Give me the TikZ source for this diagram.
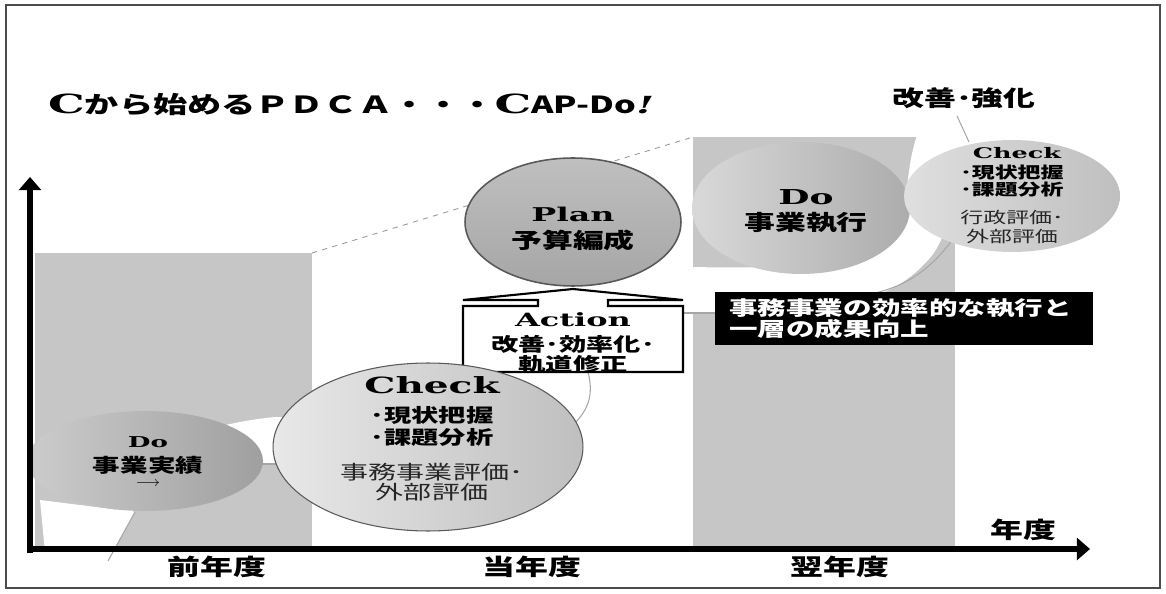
\documentclass[tikz,border=0pt]{standalone}
\usepackage{fontspec}
\setmainfont{Noto Sans CJK JP}[FakeStretch=1.45]
\newfontfamily\widefont{DejaVu Serif}[FakeStretch=1.75]
\usetikzlibrary{arrows.meta,shapes.geometric,positioning}
\newcommand{\fsz}[2]{\fontsize{#1}{#2}\selectfont}

\tikzset{
  yearband/.style={fill=gray!45},
  phase/.style={ellipse, inner sep=0pt},
  rim/.style={draw=gray!70!black, line width=0.6pt},
  ribbonedge/.style={draw=gray!70, line width=0.6pt},
  axis/.style={line width=3.6pt, -{Triangle[width=12.5pt,length=7.5pt]}},
  yearlabel/.style={font=\bfseries\fsz{12.9pt}{15pt}},
  wordbig/.style={font=\widefont\bfseries\fsz{#1}{#1}},
}

\begin{document}
\begin{tikzpicture}[x=0.02cm, y=-0.02cm]
  \useasboundingbox (0,0) rectangle (1166,594);
  \draw[line width=0.8pt, gray!60!black] (6,5) rectangle (1160,588);

  % year backgrounds
  \fill[yearband] (35,253) rectangle (312,548);
  \fill[yearband] (693,137) rectangle (955,548);
  \draw[dashed, gray!80, line width=0.5pt] (312,253) -- (693,137);

  % spiral ribbon behind the phases
  \fill[white] (40,500) -- (135,512) -- (108,561) -- (45,552) -- cycle;
  \draw[white, line width=26pt] (110,498) .. controls (170,465) and (215,446) .. (275,440)
    .. controls (420,440) and (563,450) .. (563,395)
    .. controls (563,330) and (620,290) .. (700,290)
    .. controls (820,292) and (880,285) .. (915,240)
    .. controls (935,210) and (925,165) .. (945,128);
  \draw[ribbonedge] (135,512) -- (108,561);
  \draw[ribbonedge] (255,464) -- (285,464);
  \draw[ribbonedge] (588,372) .. controls (594,395) and (588,410) .. (574,424);
  \draw[ribbonedge] (680,313) -- (718,313);
  \draw[ribbonedge] (875,293) .. controls (910,285) and (935,265) .. (955,236);
  \draw[ribbonedge] (957,116) -- (969,142);

  % action callout
  \draw[fill=white, line width=1.2pt] (463,372) -- (463,306) -- (538,306) -- (538,300) -- (463,300)
    -- (573,289) -- (683,300) -- (608,300) -- (608,306) -- (683,306) -- (683,372) -- cycle;

  % phases
  \node[phase, minimum width=4.72cm, minimum height=2cm, left color=gray!40, right color=gray!75] (doprev) at (145,461) {};
  \node[phase, rim, minimum width=6.2cm, minimum height=3.36cm, left color=gray!18, right color=gray!50] (checkbig) at (428,447) {};
  \node[phase, rim, line width=0.9pt, minimum width=4.32cm, minimum height=2.56cm, top color=gray!50, bottom color=gray!70] (plan) at (573,222) {};
  \node[phase, minimum width=4.36cm, minimum height=2.64cm, left color=gray!30, right color=gray!65] (donext) at (801,208) {};
  \node[phase, minimum width=4.32cm, minimum height=2.24cm, left color=gray!25, right color=gray!50] (checksmall) at (1012,196) {};

  \node[fill=black, text=white, anchor=north west, minimum width=7.56cm, minimum height=1.06cm, text width=7.0cm,
    inner xsep=0pt, align=left, font=\bfseries\fsz{11.2pt}{10.8pt}] (result) at (715,292) {事務事業の効率的な執行と\\一層の成果向上};

  % axes
  \draw[axis] (30,553) -- (30,177);
  \draw[axis] (27,549) -- (1090,549);

  % texts
  \node[anchor=west, font=\bfseries\fsz{13.4pt}{15pt}] (title) at (42,105)
    {{\widefont\fsz{15pt}{15pt}C}から始める{}ＰＤＣＡ・・・{\widefont\fsz{15pt}{15pt}C}AP-Do{\widefont\itshape !}};
  \node[font=\bfseries\fsz{12.5pt}{14pt}] (kaizen) at (964,98) {改善･強化};

  \node[wordbig=8.5pt] (doprevword) at (148,442) {Do};
  \node[font=\bfseries\fsz{10.8pt}{13pt}] (doprevtext) at (148,465) {事業実績};
  \node[font=\fsz{8pt}{9pt}] (doprevarrow) at (148,484) {$\longrightarrow$};

  \node[wordbig=12.7pt] (checkword) at (432,385) {Check};
  \node[align=center, font=\bfseries\fsz{10.7pt}{12.5pt}] (checklist) at (432,426) {･現状把握\\･課題分析};
  \node[align=center, text=black!85, font=\fsz{11pt}{11.3pt}] (checkeval) at (432,482) {事務事業評価･\\外部評価};

  \node[wordbig=10.8pt] (planword) at (573,214) {Plan};
  \node[font=\bfseries\fsz{12.1pt}{14pt}] (plantext) at (573,240) {予算編成};

  \node[wordbig=10.4pt] (actionword) at (573,320) {Action};
  \node[align=center, font=\bfseries\fsz{10.7pt}{11.3pt}] (actiontext) at (573,354) {改善･効率化･\\軌道修正};

  \node[wordbig=11.7pt] (donextword) at (806,197) {Do};
  \node[font=\bfseries\fsz{12.1pt}{14pt}] (donexttext) at (806,223) {事業執行};

  \node[wordbig=8.3pt] (checksmallword) at (1017,153) {Check};
  \node[align=center, font=\bfseries\fsz{9pt}{9.6pt}] (checksmalllist) at (1012,181) {･現状把握\\･課題分析};
  \node[align=center, text=black!85, font=\fsz{9pt}{10.8pt}] (checksmalleval) at (1012,227) {行政評価･\\外部評価};

  \node[yearlabel] (prevyear) at (217,567) {前年度};
  \node[yearlabel] (thisyear) at (532,567) {当年度};
  \node[yearlabel] (nextyear) at (840,567) {翌年度};
  \node[yearlabel] (yearaxis) at (1023,530) {年度};
\end{tikzpicture}
\end{document}
